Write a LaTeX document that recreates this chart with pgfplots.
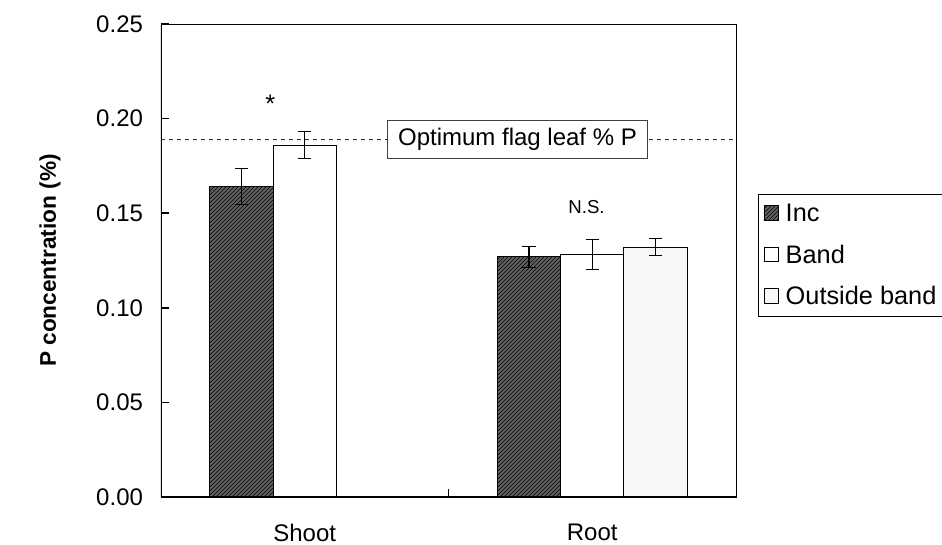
\documentclass[border=0pt]{standalone}
\usepackage{fontspec}
\setmainfont{Liberation Sans}
\usepackage{pgfplots}
\pgfplotsset{compat=1.18}
\usetikzlibrary{patterns}

% P concentration, mean and error, per category (0 = Shoot, 1 = Root)
\pgfplotstableread{
x    y      e
0    0.164  0.0095
1    0.127  0.0055
}\incdata
\pgfplotstableread{
x    y      e
0    0.186  0.0072
1    0.128  0.008
}\banddata
\pgfplotstableread{
x    y      e
1    0.132  0.0045
}\outsidedata

\begin{document}
\begin{tikzpicture}
\path[use as bounding box] (-120.75pt,-36pt) rectangle (585.75pt,372.75pt);
\begin{axis}[
  at={(0pt,0pt)}, anchor=south west,
  scale only axis, width=431.25pt, height=354.75pt,
  xmin=-0.5, xmax=1.5, ymin=0, ymax=0.25,
  ybar=0pt, bar width=0.22,
  ytick={0,0.05,0.10,0.15,0.20,0.25},
  ytick pos=left, tick align=inside,
  major tick length=6pt,
  yticklabel style={xshift=-10pt, /pgf/number format/.cd, fixed, fixed zerofill, precision=2, assume math mode=true},
  tick label style={font=\fontsize{18}{21}\selectfont},
  xtick={0.5}, xticklabels={},
  xtick pos=bottom,
  extra x ticks={0,1}, extra x tick labels={Shoot,Root},
  extra x tick style={major tick length=0pt, tick label style={yshift=-17pt}},
  axis line style={black, line width=0.6pt},
  tick style={black, line width=1.2pt},
  ylabel={\textbf{P concentration (\%)}},
  ylabel style={at={(axis description cs:-0.193,0.5)}, anchor=center, font=\fontsize{17}{20}\selectfont},
  legend style={at={(1.038,0.64)}, anchor=north west, draw=black, line width=0.6pt,
    font=\fontsize{19}{22}\selectfont, row sep=12pt, column sep=3pt,
    inner xsep=4pt, inner ysep=5pt, cells={anchor=west}},
  legend image code/.code={\draw[#1, line width=0.6pt] (3pt,-5pt) rectangle (14pt,6pt);},
  error bars/y dir=both, error bars/y explicit,
  error bars/error bar style={black, line width=0.8pt},
  error bars/error mark options={rotate=90, black, mark size=5pt, line width=0.8pt},
]
\addplot[draw=black, line width=0.8pt, fill=black!62, postaction={pattern=north east lines}]
  table[x=x, y=y, y error=e] {\incdata};
\addplot[draw=black, line width=0.8pt, fill=white]
  table[x=x, y=y, y error=e] {\banddata};
\addplot[draw=black, line width=0.8pt, fill=black!3]
  table[x=x, y=y, y error=e] {\outsidedata};
\legend{Inc, Band, Outside band}

\draw[black, line width=1.6pt] (rel axis cs:0,1) -- (rel axis cs:0,0) -- (rel axis cs:1,0);
\draw[black!80, dashed, line width=0.6pt] (axis cs:-0.5,0.189) -- (axis cs:1.5,0.189);
\node[draw=black!75, fill=white, line width=0.6pt, inner xsep=8pt, inner ysep=6pt, font=\fontsize{18}{21}\selectfont]
  at (axis cs:0.74,0.189) {Optimum flag leaf \% P};
\node[font=\fontsize{19}{22}\selectfont] at (axis cs:-0.12,0.208) {*};
\node[font=\fontsize{14}{17}\selectfont] at (axis cs:0.98,0.153) {N.S.};
\end{axis}
\end{tikzpicture}
\end{document}
